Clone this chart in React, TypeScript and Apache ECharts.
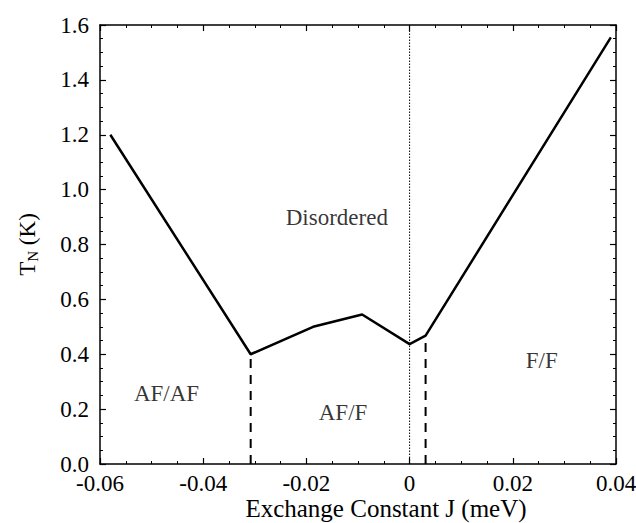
import React, { useEffect, useRef } from "react";
import * as echarts from "echarts";

const jValues = [-0.058, -0.0308, -0.0187, -0.0092, 0.0, 0.0031, 0.039];
const tnValues = [1.2, 0.4, 0.5, 0.545, 0.437, 0.468, 1.555];

const boundaryLeft = [[-0.0308, 0], [-0.0308, 0.4]];
const boundaryRight = [[0.0031, 0], [0.0031, 0.468]];
const zeroLine = [[0, 0], [0, 1.6]];

const regionNames = ["Disordered", "AF/AF", "AF/F", "F/F"];
const regionJ = [-0.0141, -0.0471, -0.0129, 0.0256];
const regionT = [0.9, 0.258, 0.187, 0.379];

const FONT = "Liberation Serif";

export default function App() {
  const ref = useRef<HTMLDivElement>(null);
  useEffect(() => {
    if (!ref.current) return;
    const chart = echarts.init(ref.current, undefined, { renderer: "svg" });
    const axisCommon = {
      type: "value" as const,
      axisLine: { show: true, onZero: false, lineStyle: { color: "#000", width: 1.5 } },
      axisTick: { show: true, inside: true, length: 6, lineStyle: { color: "#000", width: 1.2 } },
      minorTick: { show: true, splitNumber: 4, length: 3, lineStyle: { color: "#000", width: 1 } },
      splitLine: { show: false },
    };
    chart.setOption({
      animation: false,
      backgroundColor: "#fff",
      grid: { left: 100, right: 20, top: 25, bottom: 59, outerBoundsMode: "none", containLabel: false },
      xAxis: [
        {
          ...axisCommon,
          min: -0.06,
          max: 0.04,
          interval: 0.02,
          position: "bottom",
          axisLabel: {
            color: "#000",
            fontFamily: FONT,
            fontSize: 23,
            margin: 8,
            formatter: (v: number) => (Math.abs(v) < 1e-9 ? "0" : v.toFixed(2)),
          },
          name: "Exchange Constant J (meV)",
          nameLocation: "middle",
          nameMoveOverlap: false,
          nameGap: 32,
          nameTextStyle: { color: "#000", fontFamily: FONT, fontSize: 25, padding: [0, 0, 0, 56] },
        },
        {
          ...axisCommon,
          min: -0.06,
          max: 0.04,
          interval: 0.02,
          position: "top",
          axisLabel: { show: false },
        },
      ],
      yAxis: [
        {
          ...axisCommon,
          min: 0,
          max: 1.6,
          interval: 0.2,
          position: "left",
          axisLabel: {
            color: "#000",
            fontFamily: FONT,
            fontSize: 23,
            margin: 11,
            formatter: (v: number) => v.toFixed(1),
          },
          name: "{t|T}{s|N}{t| (K)}",
          nameLocation: "middle",
          nameMoveOverlap: false,
          nameRotate: 90,
          nameGap: 60,
          nameTextStyle: {
            rich: {
              t: { color: "#000", fontFamily: FONT, fontSize: 23 },
              s: { color: "#000", fontFamily: FONT, fontSize: 15, padding: [11, 0, 0, 0] },
            },
          },
        },
        {
          ...axisCommon,
          min: 0,
          max: 1.6,
          interval: 0.2,
          position: "right",
          axisLabel: { show: false },
        },
      ],
      series: [
        {
          type: "line",
          data: jValues.map((j, i) => [j, tnValues[i]]),
          showSymbol: false,
          lineStyle: { color: "#000", width: 2.5 },
          z: 5,
        },
        {
          type: "line",
          data: boundaryLeft,
          showSymbol: false,
          lineStyle: { color: "#000", width: 2, type: [9, 7] },
        },
        {
          type: "line",
          data: boundaryRight,
          showSymbol: false,
          lineStyle: { color: "#000", width: 2, type: [9, 7] },
        },
        {
          type: "line",
          data: zeroLine,
          showSymbol: false,
          lineStyle: { color: "#000", width: 1, type: [1.5, 1.5] },
        },
        {
          type: "scatter",
          symbolSize: 0,
          data: regionNames.map((n, i) => ({ name: n, value: [regionJ[i], regionT[i]] })),
          label: {
            show: true,
            position: "inside",
            formatter: (p: any) => p.name,
            color: "#000",
            fontFamily: FONT,
            fontSize: 23,
          },
        },
      ],
    });
    return () => chart.dispose();
  }, []);
  return (
    <div
      ref={ref}
      style={{ position: "absolute", left: 0, top: 0, width: 636, height: 523 }}
    />
  );
}
